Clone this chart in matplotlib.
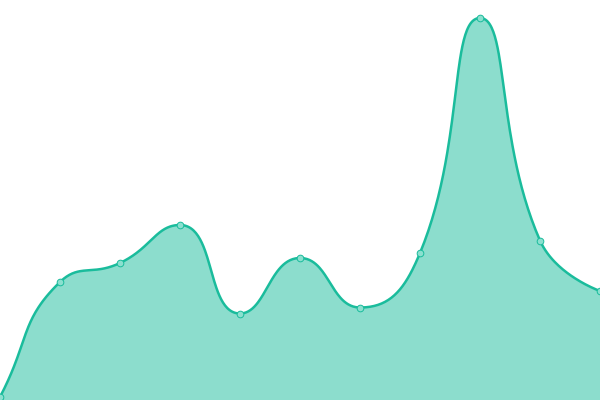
import numpy as np
import matplotlib
matplotlib.use("Agg")
import matplotlib.pyplot as plt

LINE_COLOR = "#1abc9c"
FILL_COLOR = "#1abc9c"

x_vals = list(range(11))
y_vals = [3, 118, 137, 175, 86.5, 142, 92.5, 147, 382, 159.5, 109]
SMOOTH = 0.5


def smooth_controls(pts, smooth):
    """Bezier control points, echarts-style smoothing (done in pixel space)."""
    n = len(pts)
    cps = []  # (cp_before, cp_after) per point
    for i in range(n):
        x, y = pts[i]
        if i == 0:
            nx, ny = pts[1]
            after = np.array([x + (nx - x) * smooth, y + (ny - y) * smooth])
            cps.append((np.array([x, y]), after))
            continue
        if i == n - 1:
            cps.append((np.array([x, y]), np.array([x, y])))
            continue
        px, py = pts[i - 1]
        nx, ny = pts[i + 1]
        vx, vy = nx - px, ny - py
        len_prev = np.hypot(x - px, y - py)
        len_next = np.hypot(nx - x, ny - y)
        ratio = len_next / (len_next + len_prev)
        cx1 = x + vx * smooth * ratio
        cy1 = y + vy * smooth * ratio
        cx1 = min(max(cx1, min(nx, x)), max(nx, x))
        cy1 = min(max(cy1, min(ny, y)), max(ny, y))
        vx, vy = cx1 - x, cy1 - y
        cx0 = x - vx * len_prev / len_next
        cy0 = y - vy * len_prev / len_next
        cx0 = min(max(cx0, min(px, x)), max(px, x))
        cy0 = min(max(cy0, min(py, y)), max(py, y))
        vx, vy = x - cx0, y - cy0
        cx1 = x + vx * len_next / len_prev
        cy1 = y + vy * len_next / len_prev
        cps.append((np.array([cx0, cy0]), np.array([cx1, cy1])))
    return cps


def bezier_curve(pts, cps, steps=60):
    t = np.linspace(0, 1, steps)[:, None]
    out = [pts[0][None, :]]
    for i in range(len(pts) - 1):
        p0, p3 = pts[i], pts[i + 1]
        p1, p2 = cps[i][1], cps[i + 1][0]
        seg = ((1 - t) ** 3) * p0 + 3 * ((1 - t) ** 2) * t * p1 \
            + 3 * (1 - t) * t ** 2 * p2 + t ** 3 * p3
        out.append(seg[1:])
    return np.vstack(out)


fig = plt.figure(figsize=(6, 4), dpi=100)
ax = fig.add_axes([0, 0, 1, 1])
ax.set_xlim(0, 10)
ax.set_ylim(0, 400)
ax.axis("off")

disp = ax.transData.transform(np.column_stack([x_vals, y_vals]))
cps = smooth_controls(disp, SMOOTH)
curve_disp = bezier_curve(disp, cps)
curve = ax.transData.inverted().transform(curve_disp)

ax.fill_between(curve[:, 0], 0, curve[:, 1], color=FILL_COLOR, alpha=0.5,
                linewidth=0)
ax.plot(curve[:, 0], curve[:, 1], color=LINE_COLOR, linewidth=1.8,
        solid_capstyle="round", clip_on=False)
ax.plot(x_vals, y_vals, linestyle="none", marker="o", markersize=4.8,
        markerfacecolor="#8be0cf", markeredgecolor=LINE_COLOR,
        markeredgewidth=0.7, clip_on=False)

fig.savefig("out.png", dpi=100)
